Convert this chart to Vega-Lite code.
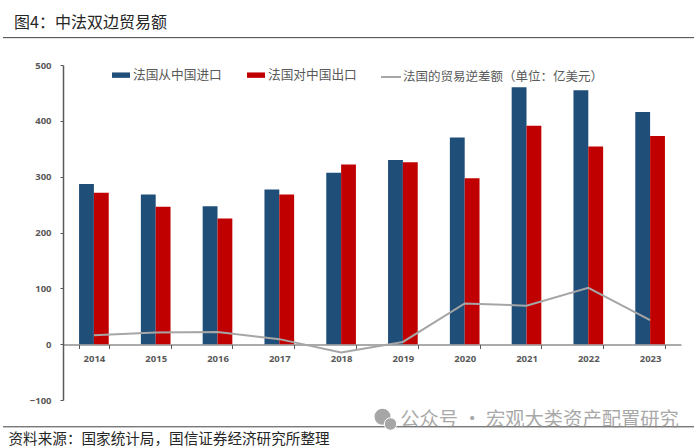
{
  "$schema": "https://vega.github.io/schema/vega-lite/v6.json",
  "width": 618,
  "height": 335,
  "autosize": "none",
  "padding": {"left": 63, "top": 65, "right": 19, "bottom": 48},
  "background": "white",
  "title": {"text": "图4：中法双边贸易额", "anchor": "start", "frame": "group", "dx": -49, "offset": 6, "font": "Noto Sans CJK SC", "fontSize": 16, "fontWeight": "normal", "color": "#262626"},
  "config": {"view": {"stroke": null}, "font": "Noto Sans CJK SC"},
  "datasets": {
    "trade": [
      {"year": "2014", "series": "法国从中国进口", "value": 287},
      {"year": "2014", "series": "法国对中国出口", "value": 271},
      {"year": "2015", "series": "法国从中国进口", "value": 268},
      {"year": "2015", "series": "法国对中国出口", "value": 246},
      {"year": "2016", "series": "法国从中国进口", "value": 247},
      {"year": "2016", "series": "法国对中国出口", "value": 225},
      {"year": "2017", "series": "法国从中国进口", "value": 277},
      {"year": "2017", "series": "法国对中国出口", "value": 268},
      {"year": "2018", "series": "法国从中国进口", "value": 307},
      {"year": "2018", "series": "法国对中国出口", "value": 322},
      {"year": "2019", "series": "法国从中国进口", "value": 330},
      {"year": "2019", "series": "法国对中国出口", "value": 326},
      {"year": "2020", "series": "法国从中国进口", "value": 370},
      {"year": "2020", "series": "法国对中国出口", "value": 297},
      {"year": "2021", "series": "法国从中国进口", "value": 460},
      {"year": "2021", "series": "法国对中国出口", "value": 391},
      {"year": "2022", "series": "法国从中国进口", "value": 455},
      {"year": "2022", "series": "法国对中国出口", "value": 354},
      {"year": "2023", "series": "法国从中国进口", "value": 416},
      {"year": "2023", "series": "法国对中国出口", "value": 373}
    ],
    "deficit": [
      {"year": "2014", "series": "法国的贸易逆差额（单位：亿美元）", "value": 16},
      {"year": "2015", "series": "法国的贸易逆差额（单位：亿美元）", "value": 21},
      {"year": "2016", "series": "法国的贸易逆差额（单位：亿美元）", "value": 22},
      {"year": "2017", "series": "法国的贸易逆差额（单位：亿美元）", "value": 9},
      {"year": "2018", "series": "法国的贸易逆差额（单位：亿美元）", "value": -15},
      {"year": "2019", "series": "法国的贸易逆差额（单位：亿美元）", "value": 4},
      {"year": "2020", "series": "法国的贸易逆差额（单位：亿美元）", "value": 73},
      {"year": "2021", "series": "法国的贸易逆差额（单位：亿美元）", "value": 69},
      {"year": "2022", "series": "法国的贸易逆差额（单位：亿美元）", "value": 101},
      {"year": "2023", "series": "法国的贸易逆差额（单位：亿美元）", "value": 43}
    ]
  },
  "encoding": {
    "x": {
      "field": "year", "type": "nominal",
      "scale": {"paddingInner": 0.52, "paddingOuter": 0.26},
      "axis": {
        "title": "资料来源：国家统计局，国信证券经济研究所整理",
        "titleFont": "Noto Sans CJK SC", "titleFontSize": 14.6, "titleFontWeight": "normal", "titleColor": "#262626",
        "titleAnchor": "start", "titleAlign": "left", "titleBaseline": "alphabetic", "titleX": -55, "titleY": 99,
        "offset": -55.5, "labelAngle": 0, "tickBand": "extent", "tickSize": 4, "tickColor": "#595959", "domainColor": "#595959", "domainWidth": 1.2,
        "labelFont": "Open Sans", "labelFontSize": 9.5, "labelFontWeight": "bold", "labelColor": "#595959", "labelPadding": 5
      }
    },
    "y": {
      "field": "value", "type": "quantitative",
      "scale": {"domain": [-100, 500], "nice": false},
      "axis": {
        "title": null, "values": [-100, 0, 100, 200, 300, 400, 500], "grid": false,
        "tickSize": 3, "tickColor": "#595959", "domainColor": "#595959", "domainWidth": 1.5,
        "labelFont": "Open Sans", "labelFontSize": 9.5, "labelFontWeight": "bold", "labelColor": "#595959", "labelPadding": 9
      }
    }
  },
  "layer": [
    {
      "data": {"name": "trade"},
      "mark": {"type": "bar", "cornerRadius": 0},
      "encoding": {
        "xOffset": {"field": "series", "type": "nominal", "sort": ["法国从中国进口", "法国对中国出口"]},
        "color": {
          "field": "series", "type": "nominal",
          "scale": {"domain": ["法国从中国进口", "法国对中国出口"], "range": ["#1f4e79", "#c00000"]},
          "legend": {
            "orient": "none", "legendX": 49, "legendY": 1, "direction": "horizontal", "title": null,
            "symbolType": "M-1,-0.3H1V0.3H-1Z", "symbolSize": 324, "symbolStrokeWidth": 0,
            "labelFont": "Noto Sans CJK SC", "labelFontSize": 12.7, "labelColor": "#595959", "columnPadding": 25, "labelOffset": 3
          }
        }
      }
    },
    {
      "data": {"name": "deficit"},
      "mark": {"type": "line", "interpolate": "linear", "strokeWidth": 2},
      "encoding": {
        "stroke": {
          "field": "series", "type": "nominal",
          "scale": {"range": ["#a6a6a6"]},
          "legend": {
            "orient": "none", "legendX": 317, "legendY": 1, "title": null,
            "symbolType": "stroke", "symbolSize": 400, "symbolStrokeWidth": 2,
            "labelFont": "Noto Sans CJK SC", "labelFontSize": 12.5, "labelColor": "#595959", "labelOffset": 1, "labelLimit": 300
          }
        }
      }
    },
    {
      "data": {"values": [{"value": 549}, {"value": -148}]},
      "mark": {"type": "rule", "color": "#404040", "strokeWidth": 1},
      "encoding": {
        "x": {"value": -60},
        "x2": {"value": 631}
      }
    },
    {
      "data": {"values": [{"year": "2021", "value": -135, "label": "公众号 · 宏观大类资产配置研究"}]},
      "mark": {"type": "text", "fontSize": 19.3, "color": "#8c8c8c", "opacity": 0.75, "dx": 13, "font": "Noto Sans CJK SC"},
      "encoding": {
        "text": {"field": "label"}
      }
    },
    {
      "data": {"values": [{"year": "2021", "value": -130}]},
      "mark": {"type": "circle", "size": 254, "color": "#a6a6a6", "opacity": 1, "xOffset": -144},
      "encoding": {}
    },
    {
      "data": {"values": [{"year": "2021", "value": -143}]},
      "mark": {"type": "circle", "size": 154, "color": "#a6a6a6", "opacity": 1, "xOffset": -136, "stroke": "white", "strokeWidth": 1},
      "encoding": {}
    }
  ]
}
